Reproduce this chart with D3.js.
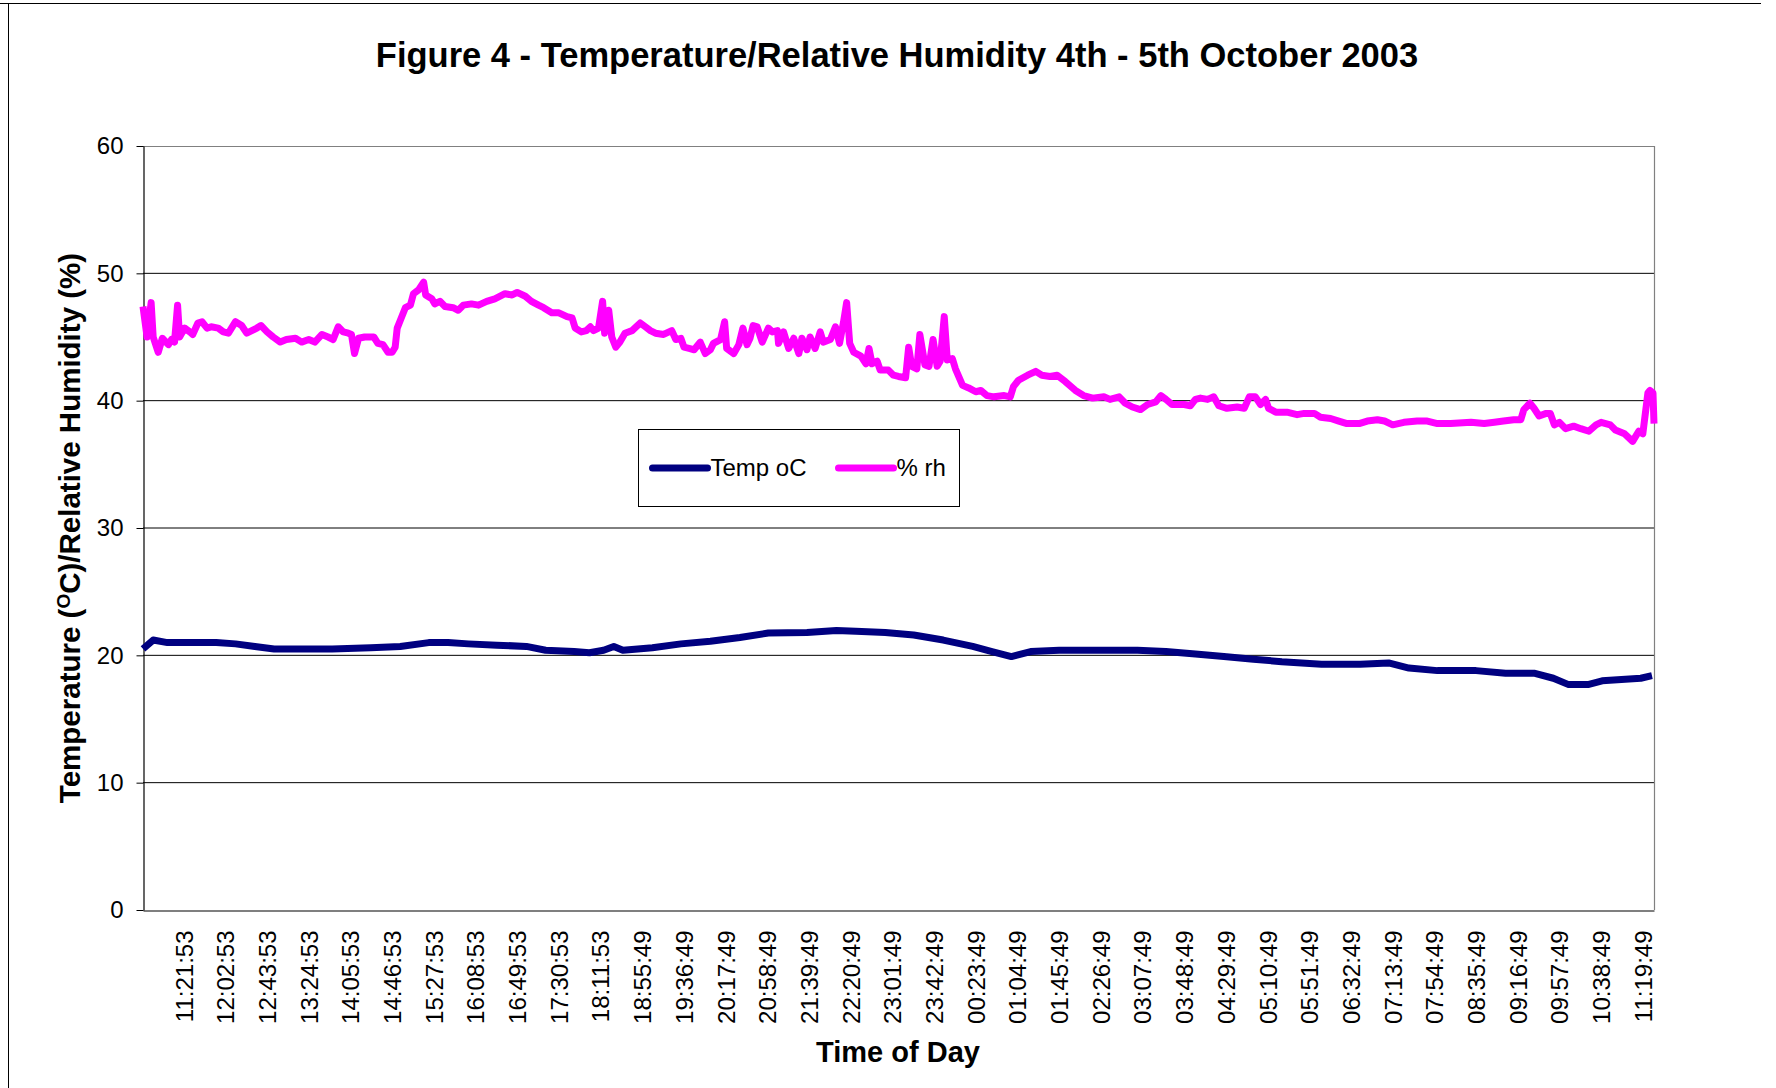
<!DOCTYPE html>
<html>
<head>
	<meta http-equiv="Content-Type" content="text/html; charset=utf-8" />
	<title>Figure 4 - Temperature/Relative Humidity</title>
	<script src="https://d3js.org/d3.v7.min.js"></script>
<style>

body {
	margin: 0;
	padding: 0;
	background-color: #fff;
}

svg {
	display: block;
	font-family: "Liberation Sans", Arial, Helvetica, sans-serif;
}

</style>
</head>
<body>
<svg></svg>
<script>

/***********
Data
************/

// category labels shown under the x axis (every 41st reading is labelled)
var timeLabels = [
	"11:21:53","12:02:53","12:43:53","13:24:53","14:05:53","14:46:53",
	"15:27:53","16:08:53","16:49:53","17:30:53","18:11:53","18:55:49",
	"19:36:49","20:17:49","20:58:49","21:39:49","22:20:49","23:01:49",
	"23:42:49","00:23:49","01:04:49","01:45:49","02:26:49","03:07:49",
	"03:48:49","04:29:49","05:10:49","05:51:49","06:32:49","07:13:49",
	"07:54:49","08:35:49","09:16:49","09:57:49","10:38:49","11:19:49"
];
var firstLabelReading = 40;
var labelStep = 41;
var lastReading = 1486;

var yTicks = [0,10,20,30,40,50,60];

var seriesNames = ["Temp oC", "% rh"];

// [reading number, temperature oC]
var tempReadings = [
	[0,20.5],[10,21.2],[24,21.0],[43,21.0],[72,21.0],[91,20.9],[110,20.7],[129,20.5],
	[157,20.5],[186,20.5],[224,20.6],[253,20.7],[281,21.0],[300,21.0],[320,20.9],[348,20.8],
	[377,20.7],[396,20.4],[424,20.3],[439,20.2],[453,20.4],[463,20.7],[472,20.4],[501,20.6],
	[529,20.9],[558,21.1],[587,21.4],[615,21.75],[653,21.8],[682,21.95],[701,21.9],[730,21.8],
	[758,21.6],[787,21.2],[816,20.7],[835,20.3],[854,19.9],[873,20.3],[901,20.4],[939,20.4],
	[978,20.4],[1006,20.3],[1035,20.1],[1063,19.9],[1092,19.7],[1120,19.5],[1159,19.3],[1197,19.3],
	[1225,19.4],[1245,19.0],[1273,18.8],[1311,18.8],[1340,18.6],[1368,18.6],[1387,18.2],[1402,17.7],
	[1421,17.7],[1435,18.0],[1454,18.1],[1473,18.2],[1484,18.4]
];

// [reading number, relative humidity %]
var rhReadings = [
	[0,47.4],[4,45.0],[8,47.7],[10,45.0],[15,43.8],[19,44.9],[25,44.4],[28,44.8],[31,44.6],[34,47.5],
	[36,45.0],[41,45.7],[46,45.4],[49,45.2],[54,46.1],[58,46.2],[63,45.7],[67,45.8],[74,45.7],[79,45.4],
	[84,45.3],[91,46.2],[97,45.9],[102,45.3],[107,45.5],[112,45.7],[116,45.9],[122,45.4],[128,45.0],[135,44.6],
	[141,44.8],[150,44.9],[156,44.6],[163,44.8],[169,44.6],[176,45.2],[182,45.0],[187,44.8],[192,45.8],[197,45.4],
	[202,45.3],[205,45.2],[208,43.7],[212,44.9],[218,45.0],[227,45.0],[231,44.5],[236,44.4],[241,43.8],[245,43.8],
	[248,44.2],[250,45.7],[253,46.3],[258,47.3],[263,47.5],[266,48.4],[271,48.7],[276,49.3],[278,48.3],[284,48.0],
	[287,47.6],[292,47.8],[297,47.4],[305,47.3],[310,47.1],[315,47.5],[323,47.6],[330,47.5],[338,47.8],[346,48.0],
	[356,48.4],[363,48.3],[368,48.5],[376,48.2],[382,47.8],[389,47.5],[394,47.3],[402,46.9],[409,46.9],[417,46.6],
	[422,46.5],[425,45.7],[431,45.4],[436,45.5],[440,45.8],[443,45.5],[448,45.7],[452,47.8],[454,45.3],[458,47.1],
	[461,45.0],[465,44.2],[469,44.6],[474,45.3],[481,45.5],[489,46.1],[494,45.8],[499,45.5],[504,45.3],[512,45.2],
	[520,45.5],[524,44.8],[529,44.9],[532,44.2],[537,44.1],[542,44.0],[548,44.6],[553,43.7],[558,44.0],[561,44.5],
	[568,44.8],[572,46.2],[574,44.1],[581,43.7],[586,44.4],[590,45.7],[594,44.4],[597,44.9],[600,45.9],[604,45.8],
	[609,44.6],[615,45.7],[619,45.4],[624,45.5],[625,44.5],[630,45.4],[635,44.1],[640,44.9],[645,43.7],[648,44.9],
	[653,44.0],[656,45.0],[661,44.1],[666,45.4],[669,44.6],[676,44.8],[681,45.8],[685,44.5],[689,46.2],[692,47.7],
	[695,44.5],[699,43.8],[706,43.5],[711,42.9],[714,44.1],[717,42.9],[722,43.1],[725,42.4],[733,42.4],[738,42.0],
	[743,41.9],[750,41.8],[753,44.2],[756,42.7],[761,42.5],[764,45.2],[769,42.8],[773,42.7],[777,44.8],[781,42.7],
	[784,43.1],[788,46.6],[791,43.2],[796,43.3],[799,42.5],[806,41.2],[812,41.0],[819,40.7],[824,40.8],[830,40.4],
	[837,40.3],[847,40.4],[853,40.3],[856,41.1],[861,41.6],[870,42.0],[878,42.3],[884,42.0],[892,41.9],[899,42.0],
	[907,41.5],[917,40.8],[925,40.4],[934,40.2],[945,40.3],[951,40.1],[960,40.3],[966,39.8],[973,39.5],[981,39.3],
	[988,39.7],[996,39.9],[1001,40.4],[1006,40.1],[1012,39.7],[1024,39.7],[1030,39.6],[1035,40.1],[1040,40.2],[1047,40.1],
	[1053,40.3],[1058,39.6],[1066,39.4],[1076,39.5],[1083,39.4],[1088,40.3],[1094,40.3],[1099,39.7],[1104,40.1],[1107,39.4],
	[1114,39.1],[1125,39.1],[1135,38.9],[1142,39.0],[1152,39.0],[1158,38.7],[1168,38.6],[1176,38.4],[1184,38.2],[1196,38.2],
	[1204,38.4],[1214,38.5],[1221,38.4],[1229,38.1],[1240,38.3],[1253,38.4],[1263,38.4],[1273,38.2],[1286,38.2],[1306,38.3],
	[1319,38.2],[1329,38.3],[1338,38.4],[1348,38.5],[1355,38.5],[1358,39.3],[1364,39.8],[1368,39.4],[1373,38.8],[1380,39.0],
	[1384,39.0],[1388,38.1],[1393,38.3],[1399,37.8],[1407,38.0],[1414,37.8],[1422,37.6],[1429,38.1],[1434,38.3],[1443,38.1],
	[1448,37.7],[1457,37.4],[1465,36.8],[1471,37.6],[1475,37.4],[1480,40.6],[1482,40.8],[1485,40.6],[1486,38.2]
];


/****************
Layout
*****************/

var w = 1776;
var h = 1088;

var plot = {left:143, right:1654, top:146, bottom:910};

var colors = ["#000080", "#ff00ff"];
var lineWidth = 7;

var svg = d3.select("svg")
	.attr("width",w)
	.attr("height",h);

svg.append("rect")
	.attr("width",w)
	.attr("height",h)
	.attr("fill","#fff");

// chart area frame (only top and left edges are visible)
svg.append("path")
	.attr("d","M0,3.5 H1761 M8.5,3.5 V" + h)
	.attr("fill","none")
	.attr("stroke","#000");

var x = d3.scaleLinear()
	.domain([0,lastReading])
	.range([plot.left,plot.right]);

var y = d3.scaleLinear()
	.domain([0,60])
	.range([plot.bottom,plot.top]);

/********************
Grid and axes
*********************/

svg.append("g")
	.selectAll("line")
	.data(yTicks.filter(function(d) {return d>0 && d<60;}))
	.enter().append("line")
		.attr("x1",plot.left)
		.attr("x2",plot.right)
		.attr("y1",function(d) {return y(d);})
		.attr("y2",function(d) {return y(d);})
		.attr("stroke","#000")
		.attr("stroke-width",1);

// plot area border : top and right in grey
svg.append("path")
	.attr("d","M" + plot.left + "," + (y(60)+0.5) + " H" + (plot.right+0.5) + " V" + plot.bottom)
	.attr("fill","none")
	.attr("stroke","#808080")
	.attr("stroke-width",1.2);

var yAxis = svg.append("g")
	.attr("transform","translate(" + (plot.left+0.5) + ",0)")
	.call(d3.axisLeft(y)
		.tickValues(yTicks)
		.tickSize(7)
		.tickSizeOuter(0)
		.tickPadding(13));

yAxis.selectAll("text")
	.style("font-size","24px")
	.style("font-family","'Liberation Sans', Arial, sans-serif")
	.attr("fill","#000");

var labelReadings = timeLabels.map(function(t,i) {return firstLabelReading + i*labelStep;});

var xAxis = svg.append("g")
	.attr("transform","translate(0," + (plot.bottom+0.5) + ")")
	.call(d3.axisBottom(x)
		.tickValues(labelReadings)
		.tickSize(0)
		.tickSizeOuter(0)
		.tickFormat(function(d,i) {return timeLabels[i];}));

xAxis.selectAll("text")
	.attr("transform","rotate(-90)")
	.attr("x",-20)
	.attr("y",0)
	.attr("dy","0.35em")
	.style("text-anchor","end")
	.style("font-size","24px")
	.style("font-family","'Liberation Sans', Arial, sans-serif")
	.attr("fill","#000");

svg.selectAll(".domain").attr("stroke","#000").attr("stroke-width",1.2);

/********************
Series
*********************/

var line = d3.line()
	.x(function(d) {return x(d[0]);})
	.y(function(d) {return y(d[1]);});

svg.append("g")
	.selectAll("path")
	.data([tempReadings, rhReadings])
	.enter().append("path")
		.attr("d",line)
		.attr("fill","none")
		.attr("stroke",function(d,i) {return colors[i];})
		.attr("stroke-width",lineWidth)
		.attr("stroke-linejoin","round");

/********************
Titles
*********************/

svg.append("text")
	.attr("x",897)
	.attr("y",67)
	.attr("text-anchor","middle")
	.style("font-size","34.5px")
	.style("font-weight","bold")
	.text("Figure 4 - Temperature/Relative Humidity 4th - 5th October 2003");

svg.append("text")
	.attr("x",898)
	.attr("y",1062)
	.attr("text-anchor","middle")
	.style("font-size","29px")
	.style("font-weight","bold")
	.text("Time of Day");

var yTitle = svg.append("text")
	.attr("transform","translate(80," + ((plot.top+plot.bottom)/2) + ") rotate(-90)")
	.attr("text-anchor","middle")
	.style("font-size","29.5px")
	.style("font-weight","bold");
yTitle.append("tspan").text("Temperature (");
yTitle.append("tspan")
	.attr("baseline-shift","super")
	.style("font-size","19px")
	.text("O");
yTitle.append("tspan").text("C)/Relative Humidity (%)");

/********************
Legend
*********************/

var legend = svg.append("g")
	.attr("transform","translate(638.5,429.5)");

legend.append("rect")
	.attr("width",321)
	.attr("height",77)
	.attr("fill","#fff")
	.attr("stroke","#000")
	.attr("stroke-width",1);

var items = legend.selectAll(".item")
	.data(seriesNames)
	.enter().append("g")
		.attr("class","item")
		.attr("transform",function(d,i) {return "translate(" + (14 + i*186) + ",38.5)";});

items.append("line")
	.attr("x1",0)
	.attr("x2",55)
	.attr("stroke",function(d,i) {return colors[i];})
	.attr("stroke-width",lineWidth)
	.attr("stroke-linecap","round");

items.append("text")
	.attr("x",58)
	.attr("dy","0.35em")
	.style("font-size","24px")
	.text(function(d) {return d;});

</script>
</body>
</html>
